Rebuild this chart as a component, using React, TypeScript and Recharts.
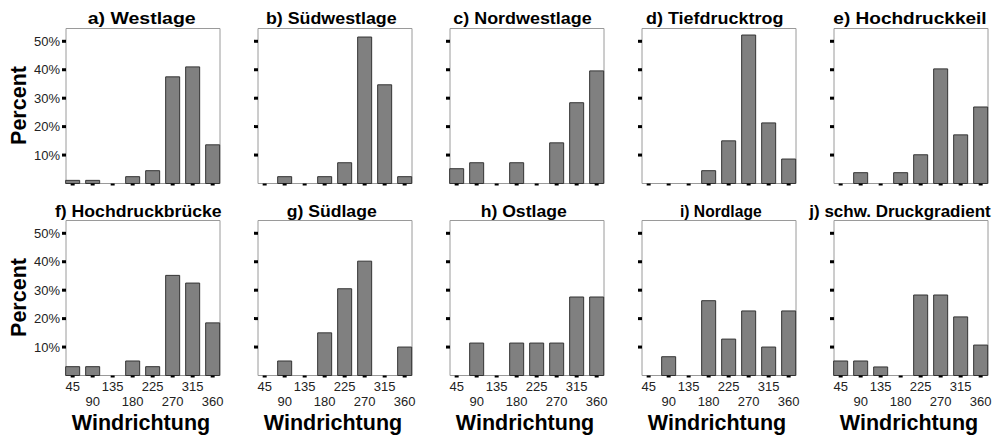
import React from 'react';
import { BarChart, Bar, XAxis, YAxis, ReferenceArea } from 'recharts';

// ---------- data ----------
const directions = [45, 90, 135, 180, 225, 270, 315, 360];
const yTicks = [10, 20, 30, 40, 50];

const westlage = [1.1, 1.1, 0, 2.4, 4.5, 37.5, 41.0, 13.6];
const suedwestlage = [0, 2.4, 0, 2.4, 7.3, 51.5, 34.7, 2.4];
const nordwestlage = [5.2, 7.3, 0, 7.3, 0, 14.3, 28.4, 39.6];
const tiefdrucktrog = [0, 0, 0, 4.5, 15.0, 52.2, 21.3, 8.6];
const hochdruckkeil = [0, 3.8, 0, 3.8, 10.1, 40.3, 17.1, 26.9];
const hochdruckbruecke = [3.1, 3.1, 0, 5.1, 3.1, 35.2, 32.5, 18.5];
const suedlage = [0, 5.1, 0, 15.0, 30.5, 40.2, 0, 10.0];
const ostlage = [0, 11.4, 0, 11.4, 11.4, 11.4, 27.6, 27.6];
const nordlage = [0, 6.6, 0, 26.3, 12.8, 22.7, 10.0, 22.7];
const schwDruckgradient = [5.1, 5.1, 3.0, 0, 28.3, 28.3, 20.6, 10.7];

const panelTitles = [
  'a) Westlage',
  'b) Südwestlage',
  'c) Nordwestlage',
  'd) Tiefdrucktrog',
  'e) Hochdruckkeil',
  'f) Hochdruckbrücke',
  'g) Südlage',
  'h) Ostlage',
  'i) Nordlage',
  'j) schw. Druckgradient',
];
const panelSeries = [
  westlage,
  suedwestlage,
  nordwestlage,
  tiefdrucktrog,
  hochdruckkeil,
  hochdruckbruecke,
  suedlage,
  ostlage,
  nordlage,
  schwDruckgradient,
];
const yLabel = 'Percent';
const xLabel = 'Windrichtung';

// ---------- layout ----------
const COL_STEP = 192;
const ROW_STEP = 192;
const CHART_W = 230;
const CHART_H = 223.5;
const PLOT_TOP = 28.5;
const FONT = '"Liberation Sans", Arial, Helvetica, sans-serif';
const titleCenters = [141.7, 331.3, 522.5, 714.7, 910, 138.3, 331.7, 523.7, 720.8, 900];
const titleWidths = [108, 130.7, 138.3, 137.3, 153.3, 166.7, 90, 86, 81.7, 181.3];

const renderNothing = () => <g />;

const renderXTick = (props: any) => {
  const { x, y, payload, index } = props;
  const shift = index % 2 === 1 ? 15 : 0;
  return (
    <text
      x={x}
      y={y + shift}
      dy="0.71em"
      textAnchor="middle"
      fontSize={13}
      fill="#222"
      fontFamily={FONT}
    >
      {payload.value}
    </text>
  );
};

function Panel({ values, col, row }: { values: number[]; col: number; row: number }) {
  const data = directions.map((d, i) => ({ dir: d, pct: values[i] }));
  const showY = col === 0;
  const showX = row === 1;
  return (
    <div
      style={{
        position: 'absolute',
        left: col * COL_STEP,
        top: row * ROW_STEP,
        width: CHART_W,
        height: CHART_H,
      }}
    >
      <BarChart
        width={CHART_W}
        height={CHART_H}
        data={data}
        margin={{ top: PLOT_TOP, right: 10, bottom: 0, left: 6 }}
      >
        <XAxis
          dataKey="dir"
          type="number"
          domain={[30, 376.5]}
          ticks={directions}
          interval={0}
          axisLine={false}
          tickSize={2}
          tickMargin={4}
          tickLine={{ stroke: '#000', strokeWidth: 4 }}
          tick={showX ? renderXTick : renderNothing}
          height={40}
        />
        <YAxis
          type="number"
          domain={[0, 54.5]}
          ticks={yTicks}
          interval={0}
          width={60}
          axisLine={false}
          tickSize={4}
          tickMargin={2}
          tickLine={{ stroke: '#000', strokeWidth: 3 }}
          tickFormatter={(v: number) => `${v}%`}
          tick={showY ? { fontSize: 13, fill: '#222', fontFamily: FONT } : renderNothing}
        />
        <ReferenceArea
          x1={30}
          x2={376.5}
          y1={0}
          y2={54.5}
          fill="none"
          stroke="#9a9a9a"
          strokeWidth={1}
          ifOverflow="visible"
        />
        <Bar
          dataKey="pct"
          fill="#808080"
          stroke="#333"
          strokeWidth={1}
          barSize={14}
          isAnimationActive={false}
        />
      </BarChart>
    </div>
  );
}

export default function App() {
  return (
    <div
      style={{
        position: 'absolute',
        left: 0,
        top: 0,
        width: 1007,
        height: 440,
        background: '#fff',
        fontFamily: FONT,
        overflow: 'hidden',
      }}
    >
      {panelSeries.map((vals, i) => (
        <Panel key={i} values={vals} col={i % 5} row={Math.floor(i / 5)} />
      ))}
      <svg
        width={1007}
        height={440}
        style={{ position: 'absolute', left: 0, top: 0, pointerEvents: 'none' }}
      >
        {panelTitles.map((t, i) => (
          <text
            key={t}
            x={titleCenters[i]}
            y={i < 5 ? 24 : 216.5}
            textAnchor="middle"
            fontSize={16}
            fontWeight="bold"
            fontFamily={FONT}
            fill="#000"
            textLength={titleWidths[i]}
            lengthAdjust="spacingAndGlyphs"
          >
            {t}
          </text>
        ))}
        {[105.5, 297.5].map((cy) => (
          <text
            key={cy}
            transform={`translate(26, ${cy}) rotate(-90)`}
            textAnchor="middle"
            fontSize={21.5}
            fontWeight="bold"
            fontFamily={FONT}
            fill="#000"
          >
            {yLabel}
          </text>
        ))}
        {[0, 1, 2, 3, 4].map((c) => (
          <text
            key={c}
            x={66 + c * COL_STEP + 77 - 2}
            y={430}
            textAnchor="middle"
            fontSize={21.5}
            fontWeight="bold"
            fontFamily={FONT}
            fill="#000"
          >
            {xLabel}
          </text>
        ))}
      </svg>
    </div>
  );
}
